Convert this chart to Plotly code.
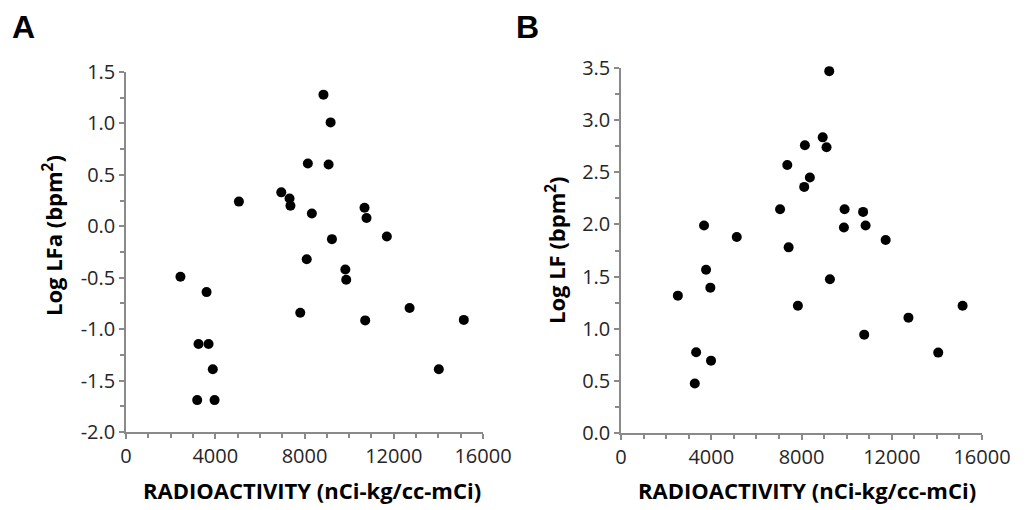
import plotly.graph_objects as go

# Panel A: Log LFa vs radioactivity
a_x = [8850, 9170, 8150, 9080, 6960, 7330, 7370, 5060, 8330, 10690, 10780, 9230, 11690, 8100,
       2440, 3610, 9830, 9870, 7810, 10720, 12710, 15140, 3250, 3700, 3890, 14020, 3190, 3970]
a_y = [1.28, 1.01, 0.61, 0.60, 0.33, 0.27, 0.20, 0.24, 0.125, 0.18, 0.08, -0.125, -0.10, -0.32,
       -0.49, -0.64, -0.42, -0.52, -0.84, -0.915, -0.795, -0.91, -1.145, -1.145, -1.39, -1.39, -1.69, -1.69]

# Panel B: Log LF vs radioactivity
b_x = [9230, 8940, 9110, 8150, 7370, 8370, 8120, 7050, 9910, 10730, 10840, 9880, 3680, 5130, 11730, 7430,
       3770, 2520, 3960, 9260, 7840, 15140, 12740, 10780, 3330, 14060, 3990, 3270]
b_y = [3.47, 2.835, 2.74, 2.76, 2.57, 2.45, 2.36, 2.145, 2.145, 2.12, 1.99, 1.97, 1.99, 1.88, 1.85, 1.78,
       1.566, 1.317, 1.394, 1.474, 1.22, 1.22, 1.106, 0.943, 0.774, 0.771, 0.694, 0.474]

x_ticks = [0, 4000, 8000, 12000, 16000]
a_ticks = [1.5, 1.0, 0.5, 0.0, -0.5, -1.0, -1.5, -2.0]
b_ticks = [3.5, 3.0, 2.5, 2.0, 1.5, 1.0, 0.5, 0.0]

x_title = "RADIOACTIVITY (nCi-kg/cc-mCi)"
a_title = "Log LFa (bpm<sup>2</sup>)"
b_title = "Log LF (bpm<sup>2</sup>)"

W, H = 1027, 510
OFF = 8  # page body margin offsets the figure
FONT = "Open Sans, sans-serif"


def px(x):
    return (x - OFF) / W


def py(y):
    return 1 - (y - OFF) / H


fig = go.Figure()
marker = dict(color="black", size=10)
fig.add_trace(go.Scatter(x=a_x, y=a_y, mode="markers", marker=marker, xaxis="x", yaxis="y",
                         cliponaxis=False, showlegend=False))
fig.add_trace(go.Scatter(x=b_x, y=b_y, mode="markers", marker=marker, xaxis="x2", yaxis="y2",
                         cliponaxis=False, showlegend=False))

axcol = "#8a8a8a"
common = dict(showgrid=False, zeroline=False, showline=True, linecolor=axcol, linewidth=1.5,
              ticks="outside", ticklen=5, tickwidth=1.5, tickcolor=axcol, automargin=False,
              tickfont=dict(family=FONT, size=20, color="#262626"))


def xax(domain, anchor):
    return dict(domain=domain, anchor=anchor, range=[0, 16000], tickvals=x_ticks,
                ticktext=[str(v) for v in x_ticks],
                minor=dict(dtick=1000, ticks="outside", ticklen=4, tickwidth=1.5, tickcolor=axcol),
                **common)


def yax(domain, anchor, rng, vals):
    return dict(domain=domain, anchor=anchor, range=rng, tickvals=vals,
                ticktext=[f"{v:.1f}" for v in vals],
                minor=dict(dtick=0.25, ticks="outside", ticklen=4, tickwidth=1.5, tickcolor=axcol),
                **common)


fig.update_layout(
    width=W, height=H,
    template="none",
    showlegend=False,
    margin=dict(l=0, r=0, t=0, b=0, pad=0, autoexpand=False),
    paper_bgcolor="white", plot_bgcolor="white",
    xaxis=xax([px(126), px(483)], "y"),
    yaxis=yax([py(432), py(72)], "x", [-2.0, 1.5], a_ticks),
    xaxis2=xax([px(621), px(982)], "y2"),
    yaxis2=yax([py(433), py(68)], "x2", [0.0, 3.5], b_ticks),
)

ann_font = dict(family=FONT, size=22, color="black")
yt_font = dict(family=FONT, size=22, color="black")
lab_font = dict(family="Arial, Liberation Sans, sans-serif", size=32, color="black")
anns = [
    dict(text="<b>A</b>", x=px(11), y=1, xanchor="left", yanchor="top", font=lab_font, borderpad=0),
    dict(text="<b>B</b>", x=px(515), y=1, xanchor="left", yanchor="top", font=lab_font, borderpad=0),
    dict(text="<b>" + x_title + "</b>", x=px(312), y=py(490), xanchor="center", yanchor="middle",
         font=ann_font),
    dict(text="<b>" + x_title + "</b>", x=px(807), y=py(490), xanchor="center", yanchor="middle",
         font=ann_font),
    dict(text="<b>" + a_title + "</b>", x=px(53), y=py(236), xanchor="center", yanchor="middle",
         textangle=-90, font=yt_font),
    dict(text="<b>" + b_title + "</b>", x=px(555), y=py(250), xanchor="center", yanchor="middle",
         textangle=-90, font=yt_font),
]
for a in anns:
    a.update(xref="paper", yref="paper", showarrow=False)
fig.update_layout(annotations=anns)

fig.write_html("out.html")
